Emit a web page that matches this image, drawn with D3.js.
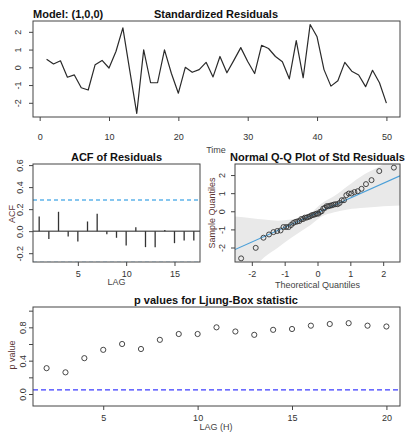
<!DOCTYPE html>
<html><head><meta charset="utf-8">
<script src="https://cdn.jsdelivr.net/npm/d3@7"></script>
<style>
html,body{margin:0;padding:0;background:#fff;}
svg{display:block;font-family:"Liberation Sans",Arial,Helvetica,sans-serif;}
</style></head><body>
<script>
// ---------------- data ----------------
const timeIdx = d3.range(1, 51);
const residuals = [0.46, 0.19, 0.37, -0.56, -0.43, -1.15, -1.28, 0.15, 0.39, -0.04,
  0.89, 2.22, -0.20, -2.60, 0.98, -0.87, -0.87, 0.98, -0.35, -1.46,
  0.00, -0.28, -0.13, 0.28, -0.54, 0.61, -0.31, 0.39, 1.11, 0.33,
  -0.35, 1.24, 1.06, 0.61, 0.31, -0.65, 1.50, -0.59, 2.41, 1.72,
  -0.13, -1.06, -0.76, 0.28, -0.22, -0.43, -1.09, -0.17, -0.87, -2.02];
const resTicksX = [0, 10, 20, 30, 40, 50];
const resTicksY = [-2, -1, 0, 1, 2];

const acfLags = d3.range(1, 18);
const acfValues = [0.133, -0.07, 0.176, -0.048, -0.094, 0.088, 0.158, -0.027, -0.06,
  -0.13, 0.036, -0.145, -0.145, 0.01, -0.109, -0.085, -0.085];
const acfBound = 0.283;
const acfTicksX = [5, 10, 15];
const acfTicksY = [-0.2, 0.0, 0.2, 0.4, 0.6];

const qqTheoretical = [-2.326, -1.881, -1.645, -1.476, -1.341, -1.227, -1.126, -1.036, -0.954, -0.878,
  -0.806, -0.739, -0.674, -0.613, -0.553, -0.496, -0.440, -0.385, -0.332, -0.279,
  -0.228, -0.176, -0.126, -0.075, -0.025, 0.025, 0.075, 0.126, 0.176, 0.228,
  0.279, 0.332, 0.385, 0.440, 0.496, 0.553, 0.613, 0.674, 0.739, 0.806,
  0.878, 0.954, 1.036, 1.126, 1.227, 1.341, 1.476, 1.645, 1.881, 2.326];
const qqLineIntercept = -0.08;
const qqLineSlope = 0.81;
const qqBandX  = [-2.52, -2.0, -1.63, -1.2, -0.82, -0.5, -0.2, 0.1, 0.51, 0.92, 1.43, 1.83, 2.19, 2.52];
const qqBandLo = [-3.6, -3.2, -2.55, -2.0, -1.49, -1.1, -0.74, -0.32, -0.06, 0.10, 0.19, 0.25, 0.29, 0.32];
const qqBandHi = [-0.28, -0.38, -0.46, -0.52, -0.46, -0.33, -0.09, 0.40, 0.84, 1.40, 2.05, 2.42, 2.8, 3.1];
const qqTicks = [-2, -1, 0, 1, 2];

const lbLags = d3.range(2, 21);
const lbPValues = [0.31, 0.26, 0.43, 0.53, 0.60, 0.54, 0.65, 0.72, 0.72, 0.80,
  0.75, 0.71, 0.77, 0.78, 0.82, 0.84, 0.85, 0.82, 0.81];
const lbSignif = 0.05;
const lbTicksX = [5, 10, 15, 20];
const lbTicksY = [0, 0.2, 0.4, 0.6, 0.8, 1.0];
const lbLabelsY = [0, 0.4, 0.8];

// ---------------- helpers ----------------
const W = 408, H = 434;
const svg = d3.select("body").append("svg").attr("width", W).attr("height", H);
const TXT = "#333", BOX = "#444";

function pad(ext, f = 0.04) { const r = ext[1] - ext[0]; return [ext[0] - r * f, ext[1] + r * f]; }

function frame(box, id) {
  svg.append("clipPath").attr("id", id).append("rect")
    .attr("x", box.L).attr("y", box.T).attr("width", box.R - box.L).attr("height", box.B - box.T);
}
function drawBox(box) {
  svg.append("rect").attr("x", box.L).attr("y", box.T).attr("width", box.R - box.L).attr("height", box.B - box.T)
    .attr("fill", "none").attr("stroke", BOX).attr("stroke-width", 1);
}
function xAxis(scale, box, ticks, labelCY, fmt) {
  const g = svg.append("g").attr("transform", `translate(0,${box.B})`)
    .call(d3.axisBottom(scale).tickValues(ticks).tickSize(4).tickFormat(fmt || (d => String(d))));
  g.select(".domain").remove();
  g.selectAll("line").attr("stroke", BOX);
  g.selectAll("text").attr("y", labelCY - box.B).attr("dy", "0.35em")
    .attr("font-size", 9).attr("fill", TXT).attr("font-family", null);
}
function yAxis(scale, box, ticks, labelCX, fmt) {
  const g = svg.append("g").attr("transform", `translate(${box.L},0)`)
    .call(d3.axisLeft(scale).tickValues(ticks).tickSize(4).tickFormat(fmt || (d => String(d))));
  g.select(".domain").remove();
  g.selectAll("line").attr("stroke", BOX);
  g.selectAll("text").attr("x", 0).attr("y", -(box.L - labelCX)).attr("dy", "0.35em")
    .attr("text-anchor", "middle").attr("transform", "rotate(-90)")
    .attr("font-size", 9).attr("fill", TXT).attr("font-family", null);
}
function title(text, x, y, anchor) {
  svg.append("text").attr("x", x).attr("y", y).attr("text-anchor", anchor || "middle")
    .attr("font-size", 11).attr("font-weight", "bold").attr("fill", "#111").text(text);
}
function xTitle(text, x, cy) {
  svg.append("text").attr("x", x).attr("y", cy).attr("dy", "0.35em").attr("text-anchor", "middle")
    .attr("font-size", 9).attr("fill", "#444").text(text);
}
function yTitle(text, cx, cy) {
  svg.append("text").attr("transform", `translate(${cx},${cy}) rotate(-90)`).attr("dy", "0.35em")
    .attr("text-anchor", "middle").attr("font-size", 9).attr("fill", "#5a3434").text(text);
}

// ---------------- panel 1: standardized residuals ----------------
{
  const box = { L: 33, R: 400, T: 21, B: 117 };
  const x = d3.scaleLinear().domain(pad([1, 50])).range([box.L, box.R]);
  const y = d3.scaleLinear().domain(pad(d3.extent(residuals))).range([box.B, box.T]);
  frame(box, "c1");
  svg.append("path").datum(residuals).attr("clip-path", "url(#c1)")
    .attr("fill", "none").attr("stroke", "#2a2a2a").attr("stroke-width", 1.2).attr("stroke-linejoin", "round")
    .attr("d", d3.line().x((d, i) => x(timeIdx[i])).y(d => y(d)));
  drawBox(box);
  xAxis(x, box, resTicksX, 136.5);
  yAxis(y, box, resTicksY, 18);
  title("Model: (1,0,0)", 33, 18, "start");
  title("Standardized Residuals", 216, 18);
  xTitle("Time", 216, 150);
}

// ---------------- panel 2: ACF ----------------
{
  const box = { L: 33, R: 200, T: 164, B: 262 };
  const x = d3.scaleLinear().domain(pad([1, 17])).range([box.L, box.R]);
  const y = d3.scaleLinear().domain([-0.28, 0.61]).range([box.B, box.T]);
  frame(box, "c2");
  const g = svg.append("g").attr("clip-path", "url(#c2)");
  g.append("line").attr("x1", box.L).attr("x2", box.R).attr("y1", y(0)).attr("y2", y(0))
    .attr("stroke", "#222").attr("stroke-width", 1);
  [acfBound, -acfBound].forEach(v => g.append("line").attr("x1", box.L).attr("x2", box.R)
    .attr("y1", y(v)).attr("y2", y(v)).attr("stroke", "#5fb4ea").attr("stroke-width", 1.4)
    .attr("stroke-dasharray", "4,3"));
  g.selectAll(".bar").data(acfValues).enter().append("line")
    .attr("x1", (d, i) => x(acfLags[i])).attr("x2", (d, i) => x(acfLags[i]))
    .attr("y1", y(0)).attr("y2", d => y(d)).attr("stroke", "#333").attr("stroke-width", 1.3);
  drawBox(box);
  xAxis(x, box, acfTicksX, 274);
  yAxis(y, box, acfTicksY, 20, d => d.toFixed(1));
  title("ACF of Residuals", (box.L + box.R) / 2, 161);
  xTitle("LAG", (box.L + box.R) / 2, 282);
  yTitle("ACF", 12, 214);
}

// ---------------- panel 3: Normal Q-Q ----------------
{
  const box = { L: 235, R: 400, T: 164, B: 262 };
  const x = d3.scaleLinear().domain(pad(d3.extent(qqTheoretical))).range([box.L, box.R]);
  const y = d3.scaleLinear().domain(pad(d3.extent(residuals))).range([box.B, box.T]);
  const sample = residuals.slice().sort(d3.ascending);
  frame(box, "c3");
  const g = svg.append("g").attr("clip-path", "url(#c3)");
  g.append("path").datum(qqBandX)
    .attr("fill", "#e9e9e9").attr("stroke", "none")
    .attr("d", d3.area().curve(d3.curveMonotoneX)
      .x(d => x(d)).y0((d, i) => y(qqBandLo[i])).y1((d, i) => y(qqBandHi[i])));
  const xd = x.domain();
  g.append("line").attr("x1", x(xd[0])).attr("x2", x(xd[1]))
    .attr("y1", y(qqLineIntercept + qqLineSlope * xd[0])).attr("y2", y(qqLineIntercept + qqLineSlope * xd[1]))
    .attr("stroke", "#4a9fd8").attr("stroke-width", 1.1);
  g.selectAll("circle").data(sample).enter().append("circle")
    .attr("cx", (d, i) => x(qqTheoretical[i])).attr("cy", d => y(d)).attr("r", 2.5)
    .attr("fill", "none").attr("stroke", "#333").attr("stroke-width", 0.9);
  drawBox(box);
  xAxis(x, box, qqTicks, 273.5);
  yAxis(y, box, qqTicks, 221.5);
  title("Normal Q-Q Plot of Std Residuals", (box.L + box.R) / 2, 161);
  xTitle("Theoretical Quantiles", (box.L + box.R) / 2, 284.5);
  yTitle("Sample Quantiles", 211.5, 213);
}

// ---------------- panel 4: Ljung-Box ----------------
{
  const box = { L: 33, R: 400, T: 307, B: 406 };
  const x = d3.scaleLinear().domain(pad([2, 20])).range([box.L, box.R]);
  const y = d3.scaleLinear().domain(pad([-0.1, 1])).range([box.B, box.T]);
  frame(box, "c4");
  const g = svg.append("g").attr("clip-path", "url(#c4)");
  g.append("line").attr("x1", box.L).attr("x2", box.R).attr("y1", y(lbSignif)).attr("y2", y(lbSignif))
    .attr("stroke", "#3d3dff").attr("stroke-width", 1.4).attr("stroke-dasharray", "5,3");
  g.selectAll("circle").data(lbPValues).enter().append("circle")
    .attr("cx", (d, i) => x(lbLags[i])).attr("cy", d => y(d)).attr("r", 2.6)
    .attr("fill", "none").attr("stroke", "#333").attr("stroke-width", 0.9);
  drawBox(box);
  xAxis(x, box, lbTicksX, 418);
  yAxis(y, box, lbTicksY, 23, d => lbLabelsY.some(v => Math.abs(v - d) < 1e-9) ? d.toFixed(1) : "");
  title("p values for Ljung-Box statistic", 216, 304);
  xTitle("LAG (H)", 216, 427);
  yTitle("p value", 12, 355);
}
</script>
</body></html>
